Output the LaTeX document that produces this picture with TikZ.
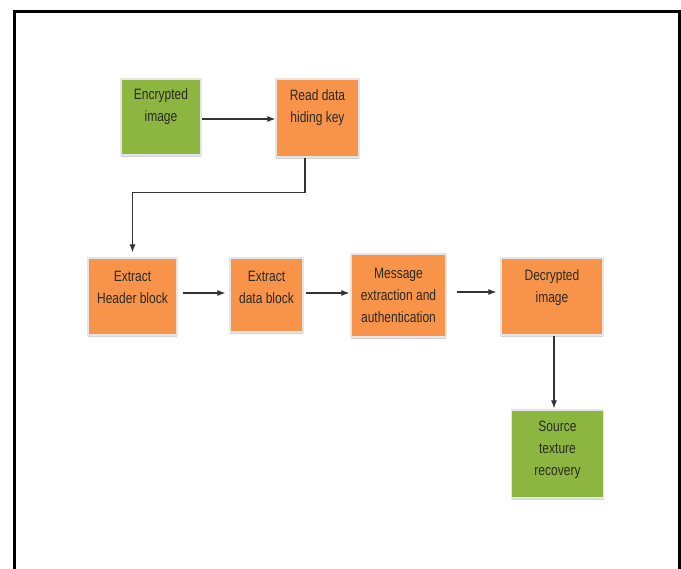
\documentclass[tikz,border=0pt]{standalone}
\usepackage{fontspec}
\setmainfont{Liberation Sans}[FakeStretch=0.8]
\usetikzlibrary{arrows.meta,shadows}
\definecolor{boxgreen}{HTML}{8DB640}
\definecolor{boxorange}{HTML}{F7944A}
\definecolor{inkc}{HTML}{2A2A22}
\definecolor{linec}{HTML}{333333}
\tikzset{
  blk/.style={rectangle, draw=gray!20, line width=1.2pt, inner sep=0pt,
    drop shadow={shadow xshift=0pt, shadow yshift=-2.5pt, opacity=0.35, fill=gray}},
  gblk/.style={blk, fill=boxgreen},
  oblk/.style={blk, fill=boxorange},
  txt/.style={align=center, text=inkc, font=\fontsize{15}{22}\selectfont, inner sep=0pt},
  arr/.style={draw=linec, line width=1.1pt, -{Latex[length=8pt,width=6pt]}}
}
\begin{document}
\begin{tikzpicture}[x=1pt,y=-1pt]
\useasboundingbox (0,0) rectangle (681,569);
\draw[line width=3pt] (14,572) -- (14,12) -- (679,12) -- (679,572);

\node[gblk, minimum width=80, minimum height=76] (enc) at (161,117) {};
\node[txt] (enct) at ([yshift=10pt]enc.center) {Encrypted\\image};

\node[oblk, minimum width=83, minimum height=78] (read) at (317.5,118) {};
\node[txt] (readt) at ([yshift=10pt]read.center) {Read data\\hiding key};

\node[oblk, minimum width=89, minimum height=77] (head) at (132.5,296.5) {};
\node[txt] (headt) at ([yshift=9pt]head.center) {Extract\\Header block};

\node[oblk, minimum width=73, minimum height=74] (data) at (266.5,295) {};
\node[txt] (datat) at ([yshift=8pt]data.center) {Extract\\data block};

\node[oblk, minimum width=95, minimum height=83] (msg) at (398.5,295.5) {};
\node[txt] (msgt) at (msg.center) {Message\\extraction and\\authentication};

\node[oblk, minimum width=102, minimum height=77] (dec) at (552,296.5) {};
\node[txt] (dect) at ([yshift=9pt]dec.center) {Decrypted\\image};

\node[gblk, minimum width=92, minimum height=88] (src) at (557.5,454) {};
\node[txt] (srct) at ([yshift=4pt]src.center) {Source\\texture\\recovery};

\draw[arr] (enc.east |- 0,119) -- (read.west |- 0,119);
\draw[arr] ([xshift=-12.5pt]read.south) -- ++(0,35) -| ([yshift=5pt]head.north);
\draw[arr, shorten <=5pt, shorten >=4pt] (head.east |- 0,293) -- (data.west |- 0,293);
\draw[arr, shorten <=2pt, shorten >=1pt] (data.east |- 0,293) -- (msg.west |- 0,293);
\draw[arr, shorten <=10pt, shorten >=4pt] (msg.east |- 0,292) -- (dec.west |- 0,292);
\draw[arr, shorten >=1pt] ([xshift=2pt]dec.south) -- ([xshift=2pt]dec.south |- src.north);
\end{tikzpicture}
\end{document}
